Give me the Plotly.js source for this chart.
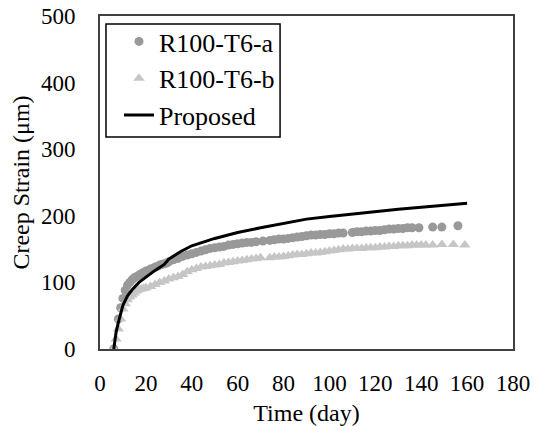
<!DOCTYPE html>
<html>
<head>
<meta charset="utf-8">
<script src="https://cdn.plot.ly/plotly-3.0.1.min.js"></script>
<style>html,body{margin:0;padding:0;background:#fff;}#chart{width:542px;height:426px;}</style>
</head>
<body>
<div id="chart"></div>
<script>
// Series a (circles)
const dayA = [6,8,9,10,11,12,13,14,15,16,17,18,19,20,21,22,23,24,25,26,27,28,29,30,32,34,36,38,40,42,44,46,48,50,52,54,56,58,60,62,64,66,68,71,74,76,78,80,82,84,86,88,90,92,94,96,98,100,102,104,106,110,112,114,116,118,120,122,124,126,128,130,132,134,136,139,145,149,156];
const strainA = [0,45,62,76,88,96,100,104,107,109,111,113,115,117,118,120,121,123,124,126,127,128,129,131,134,136,139,141,143,145,147,149,151,152,153,154,156,157,158,159,160,160,161,162,163,164,165,165,166,167,168,169,170,171,171,172,172,173,173,174,174,175,176,176,177,177,178,178,179,180,180,181,181,182,182,182,183,183,185];
// Series b (triangles)
const dayB = [6,7,8,9,10,11,12,13,14,15,16,17,18,19,20,22,24,26,28,30,32,34,36,38,40,42,44,46,48,50,52,54,56,58,60,62,64,66,68,70,74,76,78,80,82,84,86,88,90,92,94,96,98,100,102,104,106,108,110,112,114,116,118,120,122,124,126,128,130,132,134,136,138,140,142,145,149,154,159];
const strainB = [0,15,30,45,60,68,74,78,81,84,87,89,90,91,92,94,97,100,102,105,107,109,112,116,119,121,123,124,125,126,127,129,130,131,132,133,134,135,136,137,137,138,138,139,140,141,142,142,143,144,144,145,146,147,148,149,150,150,151,151,151,152,152,152,153,153,154,154,155,155,155,156,156,156,156,156,157,157,156];
// Proposed model
const dayP = [6,7,8,9,10,12,14,17,20,24,28,30,35,40,50,60,70,80,90,100,110,120,130,140,150,160];
const strainP = [0,25,40,55,66,80,89,100,108,118,127,135,146,155,166,175,182,189,195,199,203,207,210,213,216,219];

const xTicks = [0,20,40,60,80,100,120,140,160,180];
const yTicks = [0,100,200,300,400,500];

const FAM = 'Liberation Serif';

const traces = [
  {x: dayA, y: strainA, name: 'R100-T6-a', mode: 'markers', type: 'scatter',
   marker: {symbol: 'circle', size: 9, color: '#999999'}},
  {x: dayB, y: strainB, name: 'R100-T6-b', mode: 'markers', type: 'scatter',
   marker: {symbol: 'triangle-up', size: 10, color: '#c6c6c6'}},
  {x: dayP, y: strainP, name: 'Proposed', mode: 'lines', type: 'scatter',
   line: {color: '#000', width: 3}}
];

const layout = {
  width: 542, height: 426,
  margin: {l: 100, r: 29, t: 16, b: 77},
  paper_bgcolor: '#fff', plot_bgcolor: '#fff',
  font: {family: FAM, size: 22, color: '#000'},
  showlegend: true,
  legend: {x: 0.046, y: 0.994, xanchor: 'left', yanchor: 'top',
           borderwidth: 0, bgcolor: 'rgba(0,0,0,0)',
           font: {family: FAM, size: 26, color: '#000'}},
  shapes: [{type: 'rect', xref: 'paper', yref: 'paper', x0: 0.0145, x1: 0.436, y0: 0.637, y1: 0.976,
            line: {color: '#000', width: 1.5}, fillcolor: 'rgba(0,0,0,0)', layer: 'above'}],
  xaxis: {range: [0,180], tickvals: xTicks, ticktext: xTicks.map(String),
          showgrid: false, zeroline: false, showline: true, linecolor: '#404040', linewidth: 2,
          mirror: true, ticks: '', ticklabelstandoff: 12,
          tickfont: {family: FAM, size: 23, color: '#000'},
          title: {text: 'Time (day)', font: {family: FAM, size: 24, color: '#000'}, standoff: 15}},
  yaxis: {range: [0,500], tickvals: yTicks, ticktext: yTicks.map(String),
          showgrid: false, zeroline: false, showline: true, linecolor: '#404040', linewidth: 2,
          mirror: true, ticks: '', ticklabelstandoff: 18,
          tickfont: {family: FAM, size: 23, color: '#000'},
          title: {text: 'Creep Strain (μm)', font: {family: FAM, size: 24, color: '#000'}, standoff: 5}}
};

Plotly.newPlot('chart', traces, layout, {displayModeBar: false, staticPlot: true});
</script>
</body>
</html>
